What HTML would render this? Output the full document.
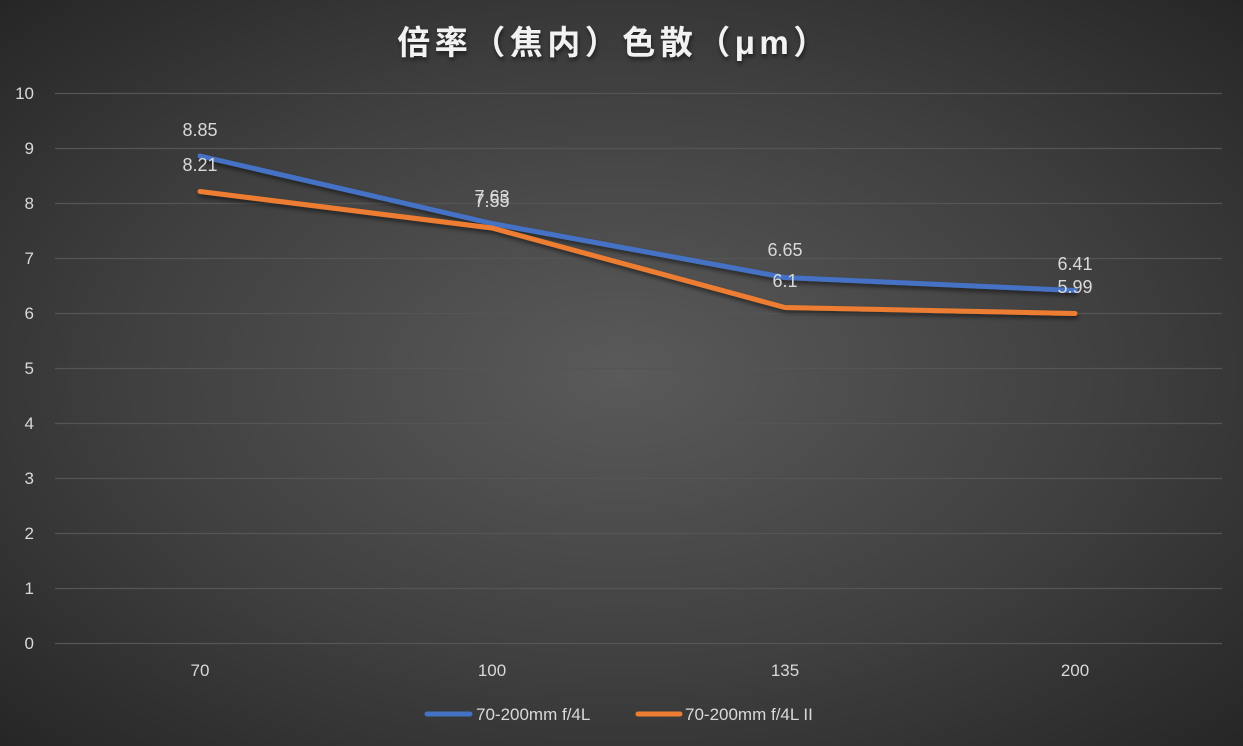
<!DOCTYPE html>
<html><head><meta charset="utf-8"><style>
html,body{margin:0;padding:0;}
body{width:1243px;height:746px;overflow:hidden;background:radial-gradient(ellipse at 50% 50%,#5a5a5a 0%,#404040 55%,#262626 100%);font-family:"Liberation Sans","Noto Sans CJK SC",sans-serif;}
</style></head><body>
<svg width="1243" height="746" xmlns="http://www.w3.org/2000/svg" style="position:absolute;left:0;top:0">
<defs><filter id="sh" x="-10%" y="-10%" width="120%" height="140%"><feDropShadow dx="1" dy="3" stdDeviation="2" flood-color="#000" flood-opacity="0.5"/></filter></defs>
<text x="614" y="54" text-anchor="middle" font-family="'Liberation Sans','Noto Sans CJK SC',sans-serif" font-size="33" font-weight="bold" fill="#f2f2f2" filter="url(#sh)" letter-spacing="4.5">倍率（焦内）色散（μm）</text>
<g stroke="#555" stroke-width="1.3">
<line x1="55" x2="1222" y1="93.5" y2="93.5"/><line x1="55" x2="1222" y1="148.5" y2="148.5"/><line x1="55" x2="1222" y1="203.5" y2="203.5"/><line x1="55" x2="1222" y1="258.5" y2="258.5"/><line x1="55" x2="1222" y1="313.5" y2="313.5"/><line x1="55" x2="1222" y1="368.5" y2="368.5"/><line x1="55" x2="1222" y1="423.5" y2="423.5"/><line x1="55" x2="1222" y1="478.5" y2="478.5"/><line x1="55" x2="1222" y1="533.5" y2="533.5"/><line x1="55" x2="1222" y1="588.5" y2="588.5"/><line x1="55" x2="1222" y1="643.5" y2="643.5"/>
</g>
<g fill="#d9d9d9" font-size="17" text-anchor="end">
<text x="34" y="99">10</text><text x="34" y="154">9</text><text x="34" y="209">8</text><text x="34" y="264">7</text><text x="34" y="319">6</text><text x="34" y="374">5</text><text x="34" y="429">4</text><text x="34" y="484">3</text><text x="34" y="539">2</text><text x="34" y="594">1</text><text x="34" y="649">0</text>
</g>
<g fill="#d9d9d9" font-size="17" text-anchor="middle">
<text x="200" y="676">70</text><text x="492" y="676">100</text><text x="785" y="676">135</text><text x="1075" y="676">200</text>
</g>
<g fill="none" stroke-width="5" stroke-linecap="round" stroke-linejoin="round" filter="url(#sh)">
<polyline stroke="#4472c4" points="200,156 492,223.5 785,277.5 1075,290.5"/>
<polyline stroke="#ed7d31" points="200,191.5 492,228 785,307.5 1075,313.5"/>
</g>
<g fill="#d9d9d9" font-size="18" text-anchor="middle">
<text x="200" y="136">8.85</text><text x="200" y="171">8.21</text>
<text x="492" y="203">7.63</text><text x="492" y="207">7.55</text>
<text x="785" y="256">6.65</text><text x="785" y="287">6.1</text>
<text x="1075" y="270">6.41</text><text x="1075" y="293">5.99</text>
</g>
<line x1="427" x2="470" y1="714" y2="714" stroke="#4472c4" stroke-width="5" stroke-linecap="round"/>
<text x="476" y="720" fill="#d9d9d9" font-size="17">70-200mm f/4L</text>
<line x1="638" x2="680" y1="714" y2="714" stroke="#ed7d31" stroke-width="5" stroke-linecap="round"/>
<text x="685" y="720" fill="#d9d9d9" font-size="17">70-200mm f/4L II</text>
</svg>
</body></html>
